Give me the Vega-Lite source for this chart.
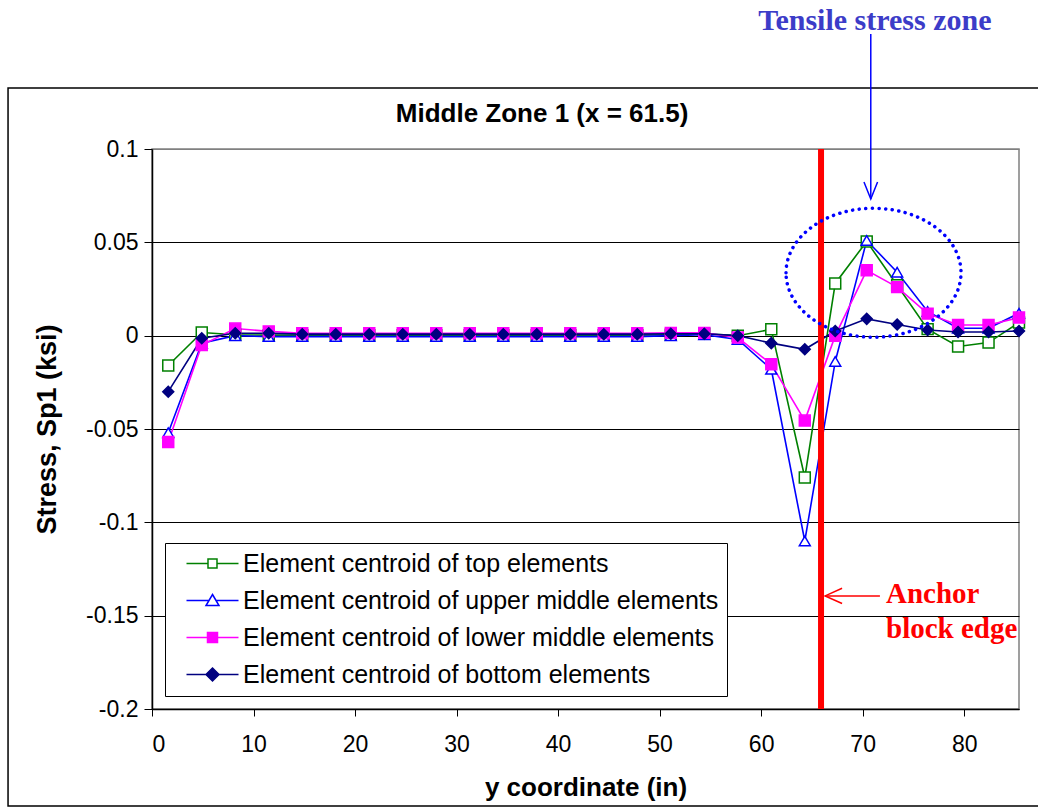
{
  "$schema": "https://vega.github.io/schema/vega-lite/v6.json",
  "width": 867,
  "height": 560,
  "autosize": {"type": "none"},
  "padding": {"left": 152, "top": 149, "right": 19, "bottom": 98},
  "background": "white",
  "config": {
    "font": "Liberation Sans",
    "view": {"stroke": "#808080", "strokeWidth": 1.5},
    "axis": {"labelFont": "Liberation Sans", "titleFont": "Liberation Sans", "labelColor": "black", "titleColor": "black", "domainColor": "black", "tickColor": "black", "titleFontWeight": "bold"}
  },
  "resolve": {"scale": {"shape": "independent"}, "legend": {"stroke": "independent", "shape": "independent", "fill": "independent"}},
  "datasets": {
    "stress": [
      {"x": 1.6, "top": -0.016, "upper": -0.052, "lower": -0.057, "bottom": -0.030},
      {"x": 4.9, "top": 0.0017, "upper": -0.004, "lower": -0.005, "bottom": -0.0014},
      {"x": 8.2, "top": 0.0005, "upper": 0.0, "lower": 0.0038, "bottom": 0.0013},
      {"x": 11.5, "top": 0.0003, "upper": -0.0005, "lower": 0.0023, "bottom": 0.0013},
      {"x": 14.8, "top": 0.0003, "upper": -0.0005, "lower": 0.0013, "bottom": 0.0008},
      {"x": 18.1, "top": 0.0003, "upper": -0.0005, "lower": 0.0013, "bottom": 0.0008},
      {"x": 21.4, "top": 0.0003, "upper": -0.0005, "lower": 0.0013, "bottom": 0.0008},
      {"x": 24.7, "top": 0.0003, "upper": -0.0005, "lower": 0.0013, "bottom": 0.0008},
      {"x": 28.0, "top": 0.0003, "upper": -0.0005, "lower": 0.0013, "bottom": 0.0008},
      {"x": 31.3, "top": 0.0003, "upper": -0.0005, "lower": 0.0013, "bottom": 0.0008},
      {"x": 34.6, "top": 0.0003, "upper": -0.0005, "lower": 0.0013, "bottom": 0.0008},
      {"x": 37.9, "top": 0.0003, "upper": -0.0005, "lower": 0.0013, "bottom": 0.0008},
      {"x": 41.2, "top": 0.0003, "upper": -0.0005, "lower": 0.0013, "bottom": 0.0008},
      {"x": 44.5, "top": 0.0003, "upper": -0.0005, "lower": 0.0013, "bottom": 0.0008},
      {"x": 47.8, "top": 0.0003, "upper": -0.0005, "lower": 0.0013, "bottom": 0.0008},
      {"x": 51.1, "top": 0.0005, "upper": 0.0, "lower": 0.0015, "bottom": 0.001},
      {"x": 54.4, "top": 0.001, "upper": 0.0005, "lower": 0.0015, "bottom": 0.001},
      {"x": 57.7, "top": 0.0, "upper": -0.002, "lower": -0.001, "bottom": 0.0},
      {"x": 61.0, "top": 0.0034, "upper": -0.018, "lower": -0.0153, "bottom": -0.004},
      {"x": 64.3, "top": -0.076, "upper": -0.110, "lower": -0.0455, "bottom": -0.0073},
      {"x": 67.3, "top": 0.028, "upper": -0.0138, "lower": 0.0, "bottom": 0.0025},
      {"x": 70.4, "top": 0.0505, "upper": 0.051, "lower": 0.035, "bottom": 0.009},
      {"x": 73.4, "top": 0.027, "upper": 0.034, "lower": 0.026, "bottom": 0.006},
      {"x": 76.4, "top": 0.0035, "upper": 0.013, "lower": 0.0118, "bottom": 0.003},
      {"x": 79.4, "top": -0.0058, "upper": 0.004, "lower": 0.0057, "bottom": 0.002},
      {"x": 82.4, "top": -0.0037, "upper": 0.004, "lower": 0.0057, "bottom": 0.002},
      {"x": 85.4, "top": 0.007, "upper": 0.012, "lower": 0.0097, "bottom": 0.0025}
    ],
    "anchorLine": [{"x": 65.9}],
    "zone": [{"x": 71.07, "y": 0.0337}],
    "blueArrow": [{"x": 70.8, "y": 0.1616, "y2": 0.0732}],
    "redArrow": [{"x": 66.3, "x2": 71.7, "y": -0.1394}],
    "chartTitle": [{"x": 38.42, "y": 0.1145, "text": "Middle Zone 1 (x = 61.5)"}],
    "blueText": [{"x": 71.2, "y": 0.1638, "text": "Tensile stress zone"}],
    "redText": [{"x": 72.3, "y": -0.1432, "text": "Anchor"}, {"x": 72.3, "y": -0.162, "text": "block edge"}]
  },
  "layer": [
    {
      "data": {"values": [{}]},
      "mark": {"type": "rect", "fillOpacity": 0, "stroke": "black", "strokeWidth": 1.5},
      "encoding": {
        "x": {"datum": -14.18, "type": "quantitative"},
        "x2": {"datum": 90},
        "y": {"datum": 0.1327, "type": "quantitative"},
        "y2": {"datum": -0.2519}
      }
    },
    {
      "data": {"name": "stress"},
      "transform": [{"fold": ["top", "upper", "lower", "bottom"], "as": ["series", "y"]}],
      "mark": {"type": "line", "strokeWidth": 1.6},
      "encoding": {
        "x": {"field": "x", "type": "quantitative", "title": "y coordinate (in)",
          "scale": {"domain": [0, 85.4], "nice": false, "zero": false},
          "axis": {"values": [0, 10, 20, 30, 40, 50, 60, 70, 80], "grid": false, "tickSize": 7, "tickWidth": 1, "domainWidth": 1.5, "labelFontSize": 23, "labelPadding": 17, "titleFontSize": 26, "titlePadding": 18, "format": "d"}},
        "y": {"field": "y", "type": "quantitative", "title": "Stress, Sp1 (ksi)",
          "scale": {"domain": [-0.2, 0.1], "nice": false, "zero": false},
          "axis": {"values": [-0.2, -0.15, -0.1, -0.05, 0, 0.05, 0.1], "grid": true,
            "gridColor": {"condition": {"test": "datum.value == 0.1", "value": "#808080"}, "value": "black"},
            "gridWidth": 1, "tickSize": 8, "domainWidth": 1.5, "labelFontSize": 23, "labelPadding": 6,
            "labelExpr": "datum.value == 0 ? '0' : '' + datum.value", "titleFontSize": 27, "titlePadding": 24}},
        "stroke": {"field": "series", "type": "nominal",
          "scale": {"domain": ["top", "upper", "lower", "bottom"], "range": ["#008000", "#0000ff", "#ff00ff", "#000080"]},
          "legend": null}
      }
    },
    {
      "data": {"name": "stress"},
      "transform": [{"fold": ["top", "upper", "lower", "bottom"], "as": ["series", "y"]}],
      "mark": {"type": "point", "filled": true, "size": 120, "strokeWidth": 1.5, "opacity": 1},
      "encoding": {
        "x": {"field": "x", "type": "quantitative", "title": "y coordinate (in)"},
        "y": {"field": "y", "type": "quantitative", "title": "Stress, Sp1 (ksi)"},
        "shape": {"field": "series", "type": "nominal",
          "scale": {"domain": ["top", "upper", "lower", "bottom"], "range": ["square", "triangle-up", "square", "diamond"]},
          "legend": null},
        "stroke": {"field": "series", "type": "nominal", "legend": null},
        "fill": {"field": "series", "type": "nominal",
          "scale": {"domain": ["top", "upper", "lower", "bottom"], "range": ["white", "white", "#ff00ff", "#000080"]},
          "legend": null}
      }
    },
    {
      "data": {"name": "stress"},
      "transform": [{"fold": ["top", "upper", "lower", "bottom"], "as": ["series", "y"]}, {"filter": "datum.x > 1000"}],
      "mark": {"type": "point", "filled": true, "strokeWidth": 1.5, "opacity": 1},
      "encoding": {
        "shape": {"field": "series", "type": "nominal",
          "scale": {"domain": ["top", "upper", "lower", "bottom"], "range": [
            "M 0.1 0 L 2.25 0 M 3.15 0 L 5.3 0 M 2.25 -0.45 L 3.15 -0.45 L 3.15 0.45 L 2.25 0.45 Z",
            "M 0.1 0 L 2.35 0 M 3.05 0 L 5.3 0 M 2.7 -0.6 L 3.35 0.5 L 2.05 0.5 Z",
            "M 0.1 0 L 5.3 0 M 2.2 -0.5 L 3.2 -0.5 L 3.2 0.5 L 2.2 0.5 Z",
            "M 0.1 0 L 5.3 0 M 2.7 -0.65 L 3.35 0 L 2.7 0.65 L 2.05 0 Z"]},
          "legend": {"orient": "none", "legendX": 13, "legendY": 394, "title": null, "padding": 8, "fillColor": "white", "strokeColor": "black", "symbolSize": 400, "symbolStrokeWidth": 1.5, "labelOffset": 45, "rowPadding": 11, "labelFont": "Liberation Sans", "labelFontSize": 25, "labelColor": "black", "labelLimit": 0,
            "labelExpr": "datum.value == 'top' ? 'Element centroid of top elements' : datum.value == 'upper' ? 'Element centroid of upper middle elements' : datum.value == 'lower' ? 'Element centroid of lower middle elements' : 'Element centroid of bottom elements'"}},
        "stroke": {"field": "series", "type": "nominal",
          "legend": {"orient": "none", "legendX": 13, "legendY": 394, "title": null, "padding": 8, "fillColor": "white", "strokeColor": "black", "symbolSize": 400, "symbolStrokeWidth": 1.5, "labelOffset": 45, "rowPadding": 11, "labelFont": "Liberation Sans", "labelFontSize": 25, "labelColor": "black", "labelLimit": 0,
            "labelExpr": "datum.value == 'top' ? 'Element centroid of top elements' : datum.value == 'upper' ? 'Element centroid of upper middle elements' : datum.value == 'lower' ? 'Element centroid of lower middle elements' : 'Element centroid of bottom elements'"}},
        "fill": {"field": "series", "type": "nominal",
          "legend": {"orient": "none", "legendX": 13, "legendY": 394, "title": null, "padding": 8, "fillColor": "white", "strokeColor": "black", "symbolSize": 400, "symbolStrokeWidth": 1.5, "labelOffset": 45, "rowPadding": 11, "labelFont": "Liberation Sans", "labelFontSize": 25, "labelColor": "black", "labelLimit": 0,
            "labelExpr": "datum.value == 'top' ? 'Element centroid of top elements' : datum.value == 'upper' ? 'Element centroid of upper middle elements' : datum.value == 'lower' ? 'Element centroid of lower middle elements' : 'Element centroid of bottom elements'"}}
      }
    },
    {
      "data": {"name": "anchorLine"},
      "mark": {"type": "rule", "color": "#ff0000", "strokeWidth": 6},
      "encoding": {"x": {"field": "x", "type": "quantitative", "title": "y coordinate (in)"}}
    },
    {
      "data": {"name": "zone"},
      "mark": {"type": "point", "shape": "M -1 0 C -1 -0.407 -0.552 -0.737 0 -0.737 C 0.552 -0.737 1 -0.407 1 0 C 1 0.407 0.552 0.737 0 0.737 C -0.552 0.737 -1 0.407 -1 0 Z", "size": 30625, "filled": false, "stroke": "#0000ff", "strokeWidth": 3.5, "strokeDash": [0.1, 6.5], "strokeCap": "round", "opacity": 1},
      "encoding": {
        "x": {"field": "x", "type": "quantitative", "title": "y coordinate (in)"},
        "y": {"field": "y", "type": "quantitative", "title": "Stress, Sp1 (ksi)"}
      }
    },
    {
      "data": {"name": "blueArrow"},
      "mark": {"type": "rule", "color": "#0000ff", "strokeWidth": 1.5},
      "encoding": {
        "x": {"field": "x", "type": "quantitative", "title": "y coordinate (in)"},
        "y": {"field": "y", "type": "quantitative", "title": "Stress, Sp1 (ksi)"},
        "y2": {"field": "y2"}
      }
    },
    {
      "data": {"name": "blueArrow"},
      "mark": {"type": "point", "shape": "M -0.4 -1 L 0 0 L 0.4 -1", "size": 1156, "filled": false, "stroke": "#0000ff", "strokeWidth": 1.5, "opacity": 1},
      "encoding": {
        "x": {"field": "x", "type": "quantitative", "title": "y coordinate (in)"},
        "y": {"field": "y2", "type": "quantitative", "title": "Stress, Sp1 (ksi)"}
      }
    },
    {
      "data": {"name": "redArrow"},
      "mark": {"type": "rule", "color": "#ff0000", "strokeWidth": 1.5},
      "encoding": {
        "x": {"field": "x", "type": "quantitative", "title": "y coordinate (in)"},
        "x2": {"field": "x2"},
        "y": {"field": "y", "type": "quantitative", "title": "Stress, Sp1 (ksi)"}
      }
    },
    {
      "data": {"name": "redArrow"},
      "mark": {"type": "point", "shape": "M 1 -0.45 L 0 0 L 1 0.45", "size": 1156, "filled": false, "stroke": "#ff0000", "strokeWidth": 1.5, "opacity": 1},
      "encoding": {
        "x": {"field": "x", "type": "quantitative", "title": "y coordinate (in)"},
        "y": {"field": "y", "type": "quantitative", "title": "Stress, Sp1 (ksi)"}
      }
    },
    {
      "data": {"name": "chartTitle"},
      "mark": {"type": "text", "font": "Liberation Sans", "fontWeight": "bold", "fontSize": 26, "color": "black", "align": "center", "baseline": "alphabetic"},
      "encoding": {
        "x": {"field": "x", "type": "quantitative", "title": "y coordinate (in)"},
        "y": {"field": "y", "type": "quantitative", "title": "Stress, Sp1 (ksi)"},
        "text": {"field": "text", "type": "nominal"}
      }
    },
    {
      "data": {"name": "blueText"},
      "mark": {"type": "text", "font": "Liberation Serif", "fontWeight": "bold", "fontSize": 30, "color": "#3c3cc8", "align": "center", "baseline": "alphabetic"},
      "encoding": {
        "x": {"field": "x", "type": "quantitative", "title": "y coordinate (in)"},
        "y": {"field": "y", "type": "quantitative", "title": "Stress, Sp1 (ksi)"},
        "text": {"field": "text", "type": "nominal"}
      }
    },
    {
      "data": {"name": "redText"},
      "mark": {"type": "text", "font": "Liberation Serif", "fontWeight": "bold", "fontSize": 29, "color": "#ff0000", "align": "left", "baseline": "alphabetic"},
      "encoding": {
        "x": {"field": "x", "type": "quantitative", "title": "y coordinate (in)"},
        "y": {"field": "y", "type": "quantitative", "title": "Stress, Sp1 (ksi)"},
        "text": {"field": "text", "type": "nominal"}
      }
    }
  ]
}
